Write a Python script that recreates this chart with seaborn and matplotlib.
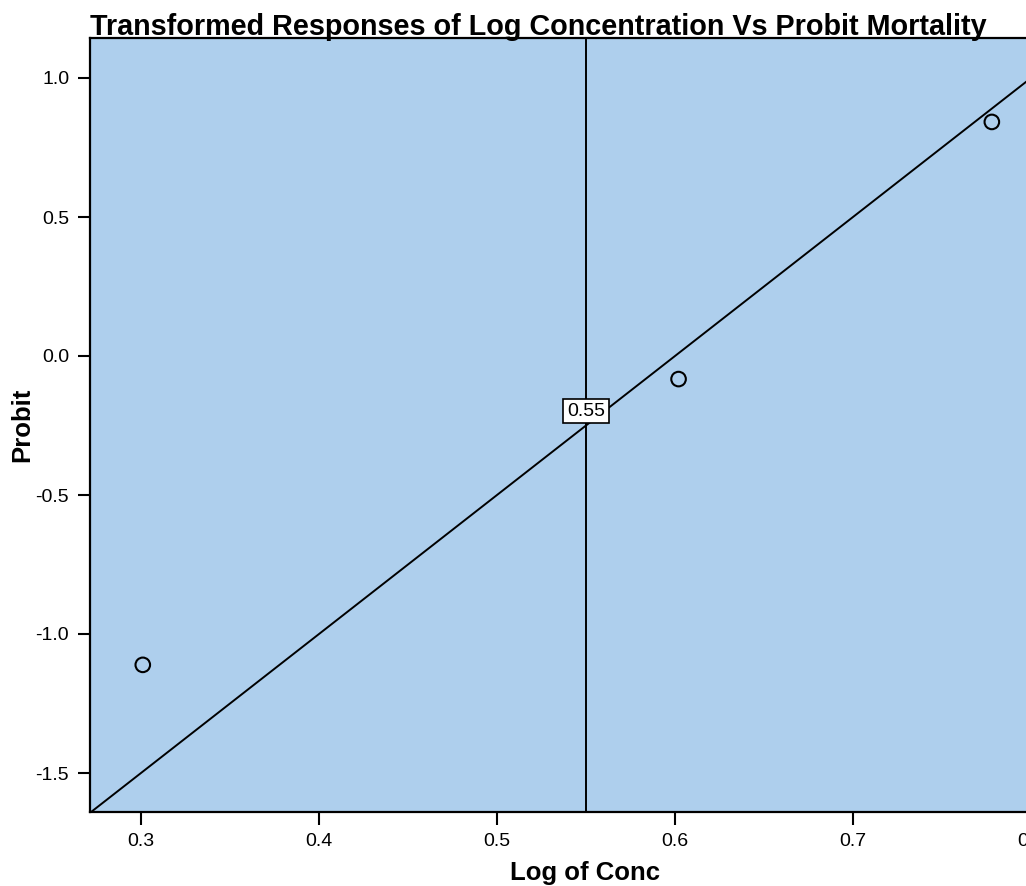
import matplotlib
matplotlib.use("Agg")
import matplotlib.pyplot as plt
import seaborn as sns
import numpy as np
import pandas as pd

# Data
log_conc = [0.301, 0.602, 0.778]
probit = [-1.111, -0.083, 0.842]
fit_slope = 5.0
fit_intercept = -3.0
ld50_x = 0.55
ld50_label = "0.55"
x_ticks = [0.3, 0.4, 0.5, 0.6, 0.7, 0.8]
y_ticks = [-1.5, -1.0, -0.5, 0.0, 0.5, 1.0]
title = "Transformed Responses of Log Concentration Vs Probit Mortality"

sns.set_style("white")
plt.rcParams['font.family'] = ['Liberation Sans', 'DejaVu Sans']
plt.rcParams['text.color'] = 'black'
plt.rcParams['axes.labelcolor'] = 'black'

W, H = 1026, 886
fig = plt.figure(figsize=(W / 100, H / 100), dpi=100)
left_px, right_px, top_px, bot_px = 90, 1080, 38, 812
ax = fig.add_axes([left_px / W, (H - bot_px) / H, (right_px - left_px) / W, (bot_px - top_px) / H])
ax.set_facecolor("#AECFED")

xmin = 0.3 - (141 - left_px) / 1780
xmax = 0.3 + (right_px - 141) / 1780
ymax = 1.0 + (78 - top_px) / 278
ymin = -1.5 - (bot_px - 773) / 278

df = pd.DataFrame({"x": log_conc, "y": probit})
fx = np.array([xmin, xmax])
fit_df = pd.DataFrame({"x": fx, "y": fit_slope * fx + fit_intercept})

sns.lineplot(data=fit_df, x="x", y="y", ax=ax, color="black", linewidth=1.4, zorder=2)
ax.axvline(ld50_x, color="black", linewidth=1.4, zorder=2)
sns.scatterplot(data=df, x="x", y="y", ax=ax, marker="o", s=110, facecolor="none",
                edgecolor="black", linewidth=1.5, zorder=3)

ax.text(ld50_x, -0.198, ld50_label, ha="center", va="center", fontsize=14, zorder=4,
        color="black",
        bbox=dict(boxstyle="square,pad=0.2", facecolor="white", edgecolor="black", linewidth=1.2))

ax.set_xlim(xmin, xmax)
ax.set_ylim(ymin, ymax)
ax.set_xticks(x_ticks)
ax.set_yticks(y_ticks)
ax.set_xticklabels([f"{v:.1f}" for v in x_ticks])
ax.set_yticklabels([f"{v:.1f}" for v in y_ticks])
ax.tick_params(axis="both", direction="out", length=9, width=1.5, labelsize=14,
               pad=6, colors="black", labelcolor="black", bottom=True, left=True)

for s in ["left", "bottom", "top"]:
    ax.spines[s].set_visible(True)
    ax.spines[s].set_color("black")
    ax.spines[s].set_linewidth(1.6)
ax.spines["right"].set_visible(False)

ax.set_xlabel("Log of Conc", fontsize=18.5, fontweight="bold", labelpad=8, color="black")
ax.set_ylabel("Probit", fontsize=18.5, fontweight="bold", color="black")
ax.yaxis.set_label_coords(-0.056, 0.5)

ax.text(0.0, 1.004, title, transform=ax.transAxes, ha="left", va="baseline",
        fontsize=20.7, fontweight="bold", color="black")

fig.savefig("out.png", dpi=100)
